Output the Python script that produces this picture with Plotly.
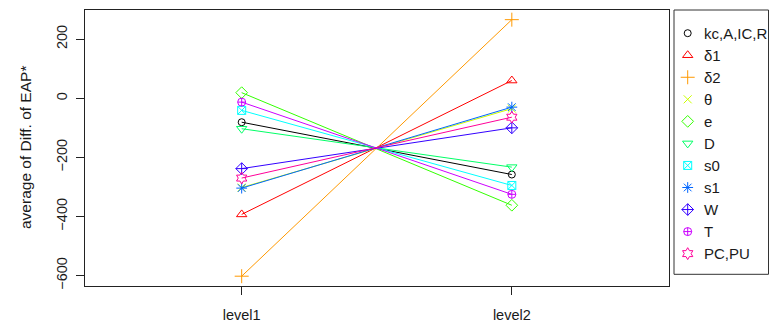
import plotly.graph_objects as go

levels = ["level1", "level2"]
level_pos = [1, 2]
series_names = ["kc,A,IC,R", "δ1", "δ2", "θ", "e", "D", "s0", "s1", "W", "T", "PC,PU"]
level1_vals = [-81, -393, -602, -302, 19, -103, -41, -304, -238, -13, -270]
level2_vals = [-258, 60, 266, -35, -362, -233, -295, -30, -100, -325, -64]
colors = ["#000000", "#FF0000", "#FF9900", "#CCFF00", "#33FF00", "#00FF66",
          "#00FFFF", "#0066FF", "#3300FF", "#CC00FF", "#FF0099"]
symbols = ["circle-open", "triangle-up-open", "cross-thin-open", "x-thin-open",
           "diamond-open", "triangle-down-open", "square-x-open", "asterisk-open",
           "diamond-cross-open", "circle-cross-open", "hexagram-open"]
marker_sizes = [7, 9, 10, 8, 9, 9, 8, 9, 9, 8, 9]
y_ticks = [-600, -400, -200, 0, 200]

FONT = "Liberation Sans, Arial, sans-serif"
TXT = "#1a1a1a"

# layout geometry (pixels)
W, H = 771, 324
ML, MR, MT, MB = 85, 2, 9.5, 38.3
PW = W - ML - MR
PH = H - MT - MB
plot_right = 668.5
leg_left, leg_right, leg_top, leg_bottom = 674, 768.5, 9.5, 274
leg_w = leg_right - leg_left
leg_h = leg_bottom - leg_top
first_off, spacing = 23.2, 22.06
mark_x, text_x = 13.7, 27.7


def px_x(v):
    return (v - ML) / PW


def px_y(v):
    return (H - MB - v) / PH


fig = go.Figure()
for name, a, b, c, s, ms in zip(series_names, level1_vals, level2_vals, colors, symbols, marker_sizes):
    fig.add_trace(go.Scatter(
        x=level_pos, y=[a, b], mode="lines+markers", line=dict(color=c, width=1),
        marker=dict(symbol=s, size=ms, color=c, line=dict(color=c, width=1)),
        showlegend=False, name=name))

# manual legend
leg_y = [leg_h - first_off - spacing * i for i in range(len(series_names))]
for i, (name, c, s, ms) in enumerate(zip(series_names, colors, symbols, marker_sizes)):
    fig.add_trace(go.Scatter(
        x=[mark_x], y=[leg_y[i]], mode="markers", xaxis="x2", yaxis="y2",
        marker=dict(symbol=s, size=ms, color=c, line=dict(color=c, width=1)),
        showlegend=False, hoverinfo="skip"))

annotations = [dict(
    text="average of Diff. of EAP*", xref="paper", yref="paper",
    x=0, y=0.5, xanchor="center", yanchor="middle", xshift=-60,
    textangle=-90, showarrow=False, font=dict(size=15.5, family=FONT, color=TXT))]
for i, name in enumerate(series_names):
    annotations.append(dict(
        text=name, xref="x2", yref="y2", x=text_x, y=leg_y[i],
        xanchor="left", yanchor="middle", showarrow=False,
        font=dict(size=15, family=FONT, color=TXT)))

fig.update_layout(
    width=W, height=H,
    margin=dict(l=ML, r=MR, t=MT, b=MB),
    paper_bgcolor="white", plot_bgcolor="white",
    font=dict(family=FONT, size=15, color=TXT),
    showlegend=False,
    xaxis=dict(
        domain=[0, px_x(plot_right)],
        range=[0.42, 2.58], tickvals=level_pos, ticktext=levels,
        showgrid=False, zeroline=False, showline=True, mirror=True,
        linecolor="#222222", linewidth=1,
        ticks="outside", ticklen=8, tickcolor="#222222",
        tickfont=dict(size=14.5), ticklabelstandoff=8,
    ),
    yaxis=dict(
        range=[-635.2, 298.7], tickvals=y_ticks,
        showgrid=False, zeroline=False, showline=True, mirror=True,
        linecolor="#222222", linewidth=1,
        ticks="outside", ticklen=8, tickcolor="#222222",
        tickangle=-90, tickfont=dict(size=14.5), ticklabelstandoff=3,
    ),
    xaxis2=dict(
        domain=[px_x(leg_left), min(1.0, px_x(leg_right))],
        range=[0, leg_w], anchor="y2",
        showgrid=False, zeroline=False, showticklabels=False, ticks="",
        showline=False, fixedrange=True,
    ),
    yaxis2=dict(
        domain=[max(0.0, px_y(leg_bottom)), min(1.0, px_y(leg_top))],
        range=[0, leg_h], anchor="x2",
        showgrid=False, zeroline=False, showticklabels=False, ticks="",
        showline=False, fixedrange=True,
    ),
    shapes=[dict(
        type="rect", xref="paper", yref="paper",
        x0=px_x(leg_left), x1=px_x(leg_right),
        y0=px_y(leg_bottom), y1=px_y(leg_top),
        line=dict(color="#333333", width=1), fillcolor="rgba(0,0,0,0)")],
    annotations=annotations,
)

fig.write_html("out.html")
